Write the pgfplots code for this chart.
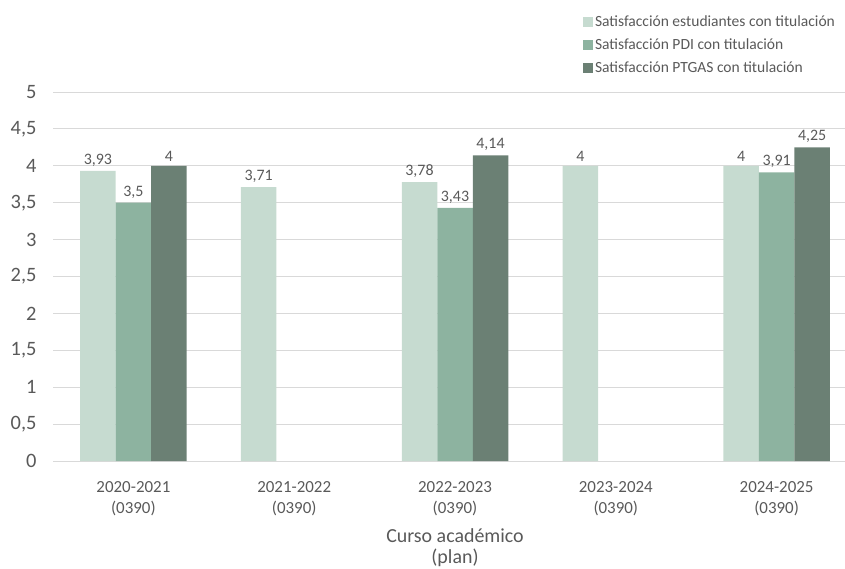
\documentclass[border=0pt]{standalone}
\usepackage{fontspec}
\setmainfont{Carlito}
\usepackage{pgfplots}
\pgfplotsset{compat=1.18}
\definecolor{c1}{HTML}{C6DBD0}
\definecolor{c2}{HTML}{8DB3A0}
\definecolor{c3}{HTML}{6B8074}
\definecolor{txt}{HTML}{595959}
\definecolor{gridc}{HTML}{D9D9D9}
\begin{document}
\begin{tikzpicture}[x=1bp,y=1bp]
\path[use as bounding box] (0,0) rectangle (845,-569);
\begin{axis}[
  at={(53bp,-92bp)}, anchor=north west,
  scale only axis, width=804bp, height=369bp,
  xmin=-0.5, xmax=4.5, ymin=0, ymax=5,
  ybar=0pt, bar width=35.5bp,
  axis lines*=left,
  y axis line style={draw=none},
  x axis line style={draw=gridc, line width=1bp},
  tick style={draw=none},
  ymajorgrids, grid style={draw=gridc, line width=1bp},
  ytick={0,0.5,...,5},
  xtick={0,1,2,3,4},
  xticklabels={{2020-2021\\(0390)},{2021-2022\\(0390)},{2022-2023\\(0390)},{2023-2024\\(0390)},{2024-2025\\(0390)}},
  xticklabel style={align=center, font=\fontsize{17}{21}\selectfont, text=txt, yshift=-13bp},
  yticklabel style={font=\fontsize{20.5}{22}\selectfont, text=txt, xshift=-13bp},
  /pgf/number format/.cd, use comma, assume math mode=true, /pgfplots/.cd,
  xlabel={Curso académico\\(plan)},
  xlabel style={at={(axis description cs:0.5,0)}, anchor=north, yshift=-67bp, inner sep=0pt,
    align=center, font=\fontsize{20}{21.5}\selectfont, text=txt},
  nodes near coords,
  every node near coord/.append style={font=\fontsize{16}{18}\selectfont, text=txt, yshift=1bp},
  legend style={at={(rel axis cs:0.979,1.217)}, anchor=north east, draw=none, fill=none,
    font=\fontsize{15.6}{18}\selectfont, text=txt, row sep=6.5bp, cells={anchor=west}},
  legend image code/.code={\fill[#1] (0bp,-5bp) rectangle (10bp,5bp);},
]
\addplot[fill=c1, draw=none] coordinates {(0,3.93) (1,3.71) (2,3.78) (3,4) (4,4)};
\addplot[fill=c2, draw=none] coordinates {(0,3.5) (2,3.43) (4,3.91)};
\addplot[fill=c3, draw=none] coordinates {(0,4) (2,4.14) (4,4.25)};
\legend{Satisfacción estudiantes con titulación, Satisfacción PDI con titulación, Satisfacción PTGAS con titulación}
\end{axis}
\end{tikzpicture}
\end{document}
